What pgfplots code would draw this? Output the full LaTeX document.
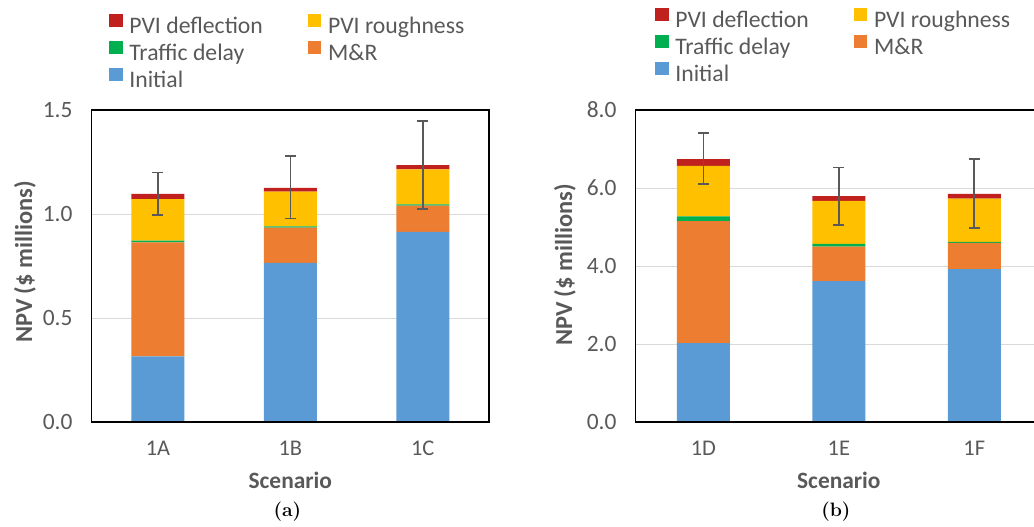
\documentclass[border=0pt]{standalone}
\usepackage{fontspec}
\usepackage{pgfplots}
\pgfplotsset{compat=1.18}
\usepackage{pgfplotstable}
\newfontfamily\calibri{Carlito}
\definecolor{cInit}{HTML}{5B9BD5}
\definecolor{cMR}{HTML}{ED7D31}
\definecolor{cTD}{HTML}{00B050}
\definecolor{cRough}{HTML}{FFC000}
\definecolor{cDefl}{HTML}{C0201E}
\definecolor{txt}{HTML}{595959}
\definecolor{grd}{HTML}{D9D9D9}
\definecolor{errc}{HTML}{595959}

\pgfplotstableread{
x Init MR TD Rough Defl
0 0.315 0.549 0.008 0.200 0.025
1 0.765 0.169 0.006 0.168 0.018
2 0.914 0.126 0.006 0.168 0.021
}\dataA
\pgfplotstableread{
x y ep em
0 1.097 0.103 0.102
1 1.126 0.152 0.147
2 1.235 0.213 0.211
}\errA
\pgfplotstableread{
x Init MR TD Rough Defl
0 2.02 3.13 0.12 1.30 0.17
1 3.61 0.89 0.07 1.10 0.12
2 3.92 0.67 0.03 1.11 0.12
}\dataB
\pgfplotstableread{
x y ep em
0 6.74 0.67 0.64
1 5.79 0.74 0.74
2 5.85 0.90 0.88
}\errB

\pgfplotsset{
  npvbase/.style={
    scale only axis, height=312bp,
    xmin=-0.5, xmax=2.5, ymin=0,
  },
  npv/.style={
    npvbase,
    ybar stacked, bar width=53bp,
    xtick={0,1,2},
    major tick length=0pt,
    axis line style={draw=none},
    ymajorgrids, grid style={grd, line width=1bp},
    tick label style={text=txt},
    /pgf/number format/assume math mode=true,
    yticklabel={\pgfmathprintnumber[fixed,fixed zerofill,precision=1]{\tick}},
    yticklabel style={font=\calibri\fontsize{23.5}{28}\selectfont, anchor=east, inner sep=0pt, xshift=-19bp},
    xticklabel style={font=\calibri\fontsize{22.5}{27}\selectfont, anchor=north, inner sep=0pt, yshift=-19bp},
    ylabel style={font=\calibri\bfseries\fontsize{24.5}{29}\selectfont, text=txt,
      at={(axis description cs:0,0.5)}, anchor=center},
    xlabel style={font=\calibri\bfseries\fontsize{23.5}{28}\selectfont, text=txt,
      at={(axis description cs:0.5,0)}, anchor=center, yshift=-58bp},
    reverse legend, legend columns=2,
    legend cell align=left,
    legend style={draw=none, fill=none, anchor=north west,
      font=\calibri\fontsize{23.8}{28}\selectfont, text=txt,
      nodes={inner sep=1bp}, row sep=4.5bp,
      /tikz/every odd column/.append style={column sep=5.7bp},
      /tikz/every even column/.append style={column sep=44bp}},
    legend image code/.code={\fill[##1] (0bp,-1bp) rectangle (13.5bp,12.5bp);},
  },
  frame/.style={
    npvbase, ticks=none, axis line style={black, line width=1.2bp}, clip=false,
  },
  eb/.style={draw=none, mark=none,
    error bars/.cd, y dir=both, y explicit,
    error bar style={draw=errc, line width=1.6bp},
    error mark options={rotate=90, draw=errc, line width=1.6bp, mark size=5.5bp}},
}

\begin{document}
\begin{tikzpicture}
\useasboundingbox (0bp,0bp) rectangle (1034bp,-527bp);
% ---------- panel (a)
\begin{axis}[npv, width=397.3bp, ymax=1.5, ytick={0,0.5,1.0,1.5},
  at={(91.7bp,-422bp)}, anchor=south west,
  xticklabels={1A,1B,1C}, xlabel={Scenario}, ylabel={NPV (\$ millions)},
  ylabel style={xshift=4bp, yshift=66.7bp},
  legend style={at={(axis description cs:0.036,1.315)}}]
\addplot[fill=cInit, draw=none] table[x=x,y=Init]{\dataA};
\addlegendentry{Initial}
\addplot[fill=cMR, draw=none] table[x=x,y=MR]{\dataA};
\addlegendentry{M\&R}
\addplot[fill=cTD, draw=none] table[x=x,y=TD]{\dataA};
\addlegendentry{Traffic delay}
\addplot[fill=cRough, draw=none] table[x=x,y=Rough]{\dataA};
\addlegendentry{PVI roughness}
\addplot[fill=cDefl, draw=none] table[x=x,y=Defl]{\dataA};
\addlegendentry{PVI deflection}
\end{axis}
\begin{axis}[frame, width=397.3bp, ymax=1.5, at={(91.7bp,-422bp)}, anchor=south west]
\addplot[eb] table[x=x,y=y,y error plus=ep,y error minus=em]{\errA};
\node[font=\bfseries\fontsize{19.5}{23}\selectfont, anchor=center] at (axis description cs:0.5,0) [yshift=-90bp, xshift=-3bp] {(a)};
\end{axis}
% ---------- panel (b)
\begin{axis}[npv, width=406.3bp, ymax=8, ytick={0,2,4,6,8},
  at={(635.7bp,-422bp)}, anchor=south west,
  xticklabels={1D,1E,1F}, xlabel={Scenario}, ylabel={NPV (\$ millions)},
  ylabel style={xshift=1bp, yshift=70.7bp},
  legend style={at={(axis description cs:0.040,1.335)}}]
\addplot[fill=cInit, draw=none] table[x=x,y=Init]{\dataB};
\addlegendentry{Initial}
\addplot[fill=cMR, draw=none] table[x=x,y=MR]{\dataB};
\addlegendentry{M\&R}
\addplot[fill=cTD, draw=none] table[x=x,y=TD]{\dataB};
\addlegendentry{Traffic delay}
\addplot[fill=cRough, draw=none] table[x=x,y=Rough]{\dataB};
\addlegendentry{PVI roughness}
\addplot[fill=cDefl, draw=none] table[x=x,y=Defl]{\dataB};
\addlegendentry{PVI deflection}
\end{axis}
\begin{axis}[frame, width=406.3bp, ymax=8, at={(635.7bp,-422bp)}, anchor=south west]
\addplot[eb] table[x=x,y=y,y error plus=ep,y error minus=em]{\errB};
\node[font=\bfseries\fontsize{19.5}{23}\selectfont, anchor=center] at (axis description cs:0.5,0) [yshift=-90bp, xshift=-3bp] {(b)};
\end{axis}
\end{tikzpicture}
\end{document}
